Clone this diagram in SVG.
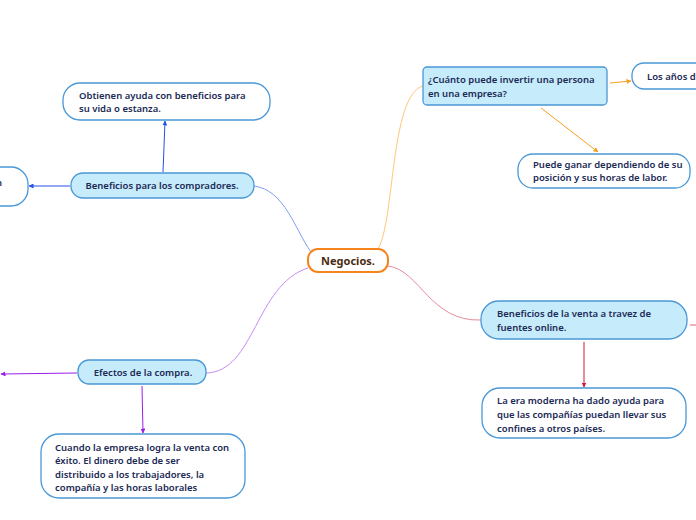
<svg xmlns="http://www.w3.org/2000/svg" width="696" height="520" viewBox="0 0 696 520">
<defs>
<style>
.t{font-family:"Noto Sans","Open Sans",sans-serif;font-size:9.5px;font-weight:600;fill:#1b2a55}
.sub{fill:#c6ebfb;stroke:#4a98d6;stroke-width:1.3}
.leaf{fill:#ffffff;stroke:#4a98d6;stroke-width:1.3}
.c{fill:none;stroke-width:1}
</style>
<marker id="ab" viewBox="0 0 10 10" refX="9" refY="5" markerWidth="5" markerHeight="5" orient="auto"><path d="M0,0L10,5L0,10z" fill="#2450e6"/></marker>
<marker id="ap" viewBox="0 0 10 10" refX="9" refY="5" markerWidth="5" markerHeight="5" orient="auto"><path d="M0,0L10,5L0,10z" fill="#9b1ee8"/></marker>
<marker id="ao" viewBox="0 0 10 10" refX="9" refY="5" markerWidth="5" markerHeight="5" orient="auto"><path d="M0,0L10,5L0,10z" fill="#f5a020"/></marker>
<marker id="ar" viewBox="0 0 10 10" refX="9" refY="5" markerWidth="5" markerHeight="5" orient="auto"><path d="M0,0L10,5L0,10z" fill="#d01840"/></marker>
</defs>
<rect width="696" height="520" fill="#ffffff"/>
<g id="connectors">
<path class="c" d="M311,252 C295,230 285,190 254,186" stroke="#7f9ef5"/>
<path class="c" d="M378,249 C395,220 390,95 423,86" stroke="#ffc77a"/>
<path class="c" d="M388,266 C420,270 430,322 481,320" stroke="#e68a9c"/>
<path class="c" d="M308,268 C255,285 255,372 206,373" stroke="#c98af5"/>
<path class="c" d="M163,172 L165,121" stroke="#2450e6" marker-end="url(#ab)"/>
<path class="c" d="M70,186 L29,186" stroke="#2450e6" marker-end="url(#ab)"/>
<path class="c" d="M77,373 L1,374" stroke="#9b1ee8" marker-end="url(#ap)"/>
<path class="c" d="M142,386 L143,433" stroke="#9b1ee8" marker-end="url(#ap)"/>
<path class="c" d="M610,83 L631,81" stroke="#f5a020" marker-end="url(#ao)"/>
<path class="c" d="M541,108 L598,152" stroke="#f5a020" marker-end="url(#ao)"/>
<path class="c" d="M584,342 L584,387" stroke="#d01840" marker-end="url(#ar)"/>
<path class="c" d="M690,325 L696,325" stroke="#e06078"/>
</g>
<g id="n-negocios">
<rect x="308" y="249" width="80" height="23" rx="10" fill="#ffffff" stroke="#f5841f" stroke-width="2"/>
<text x="348" y="265" text-anchor="middle" style="font-family:'Noto Sans','Open Sans',sans-serif;font-size:11px;font-weight:700;fill:#4a2c10">Negocios.</text>
</g>
<g id="n-compradores">
<rect class="sub" x="71" y="173" width="183" height="25" rx="12"/>
<text class="t" x="162" y="189" text-anchor="middle">Beneficios para los compradores.</text>
</g>
<g id="n-obtienen">
<rect class="leaf" x="63" y="83" width="207" height="37" rx="17"/>
<text class="t" x="79" y="99">Obtienen ayuda con beneficios para</text>
<text class="t" x="79" y="112">su vida o estanza.</text>
</g>
<g id="n-left">
<rect class="leaf" x="-30" y="167" width="58" height="39" rx="17"/>
<text class="t" x="-4" y="186">n</text>
</g>
<g id="n-efectos">
<rect class="sub" x="78" y="360" width="128" height="24" rx="11"/>
<text class="t" x="143" y="376" text-anchor="middle">Efectos de la compra.</text>
</g>
<g id="n-cuando">
<rect class="leaf" x="41" y="434" width="204" height="64" rx="18"/>
<text class="t" x="55" y="451">Cuando la empresa logra la venta con</text>
<text class="t" x="55" y="464">éxito. El dinero debe de ser</text>
<text class="t" x="55" y="478">distribuido a los trabajadores, la</text>
<text class="t" x="55" y="491">compañía y las horas laborales</text>
</g>
<g id="n-cuanto">
<rect class="sub" x="423" y="67" width="184" height="38" rx="4"/>
<text class="t" x="428" y="83">¿Cuánto puede invertir una persona</text>
<text class="t" x="428" y="97">en una empresa?</text>
</g>
<g id="n-anos">
<rect class="leaf" x="632" y="63" width="100" height="26" rx="12"/>
<text class="t" x="647" y="80">Los años d</text>
</g>
<g id="n-puede">
<rect class="leaf" x="518" y="154" width="172" height="34" rx="15"/>
<text class="t" x="533" y="168">Puede ganar dependiendo de su</text>
<text class="t" x="533" y="181">posición y sus horas de labor.</text>
</g>
<g id="n-venta">
<rect class="sub" x="481" y="301" width="206" height="38" rx="18"/>
<text class="t" x="497" y="317">Beneficios de la venta a travez de</text>
<text class="t" x="497" y="331">fuentes online.</text>
</g>
<g id="n-era">
<rect class="leaf" x="482" y="388" width="204" height="50" rx="18"/>
<text class="t" x="497" y="404">La era moderna ha dado ayuda para</text>
<text class="t" x="497" y="418">que las compañías puedan llevar sus</text>
<text class="t" x="497" y="432">confines a otros países.</text>
</g>
</svg>
